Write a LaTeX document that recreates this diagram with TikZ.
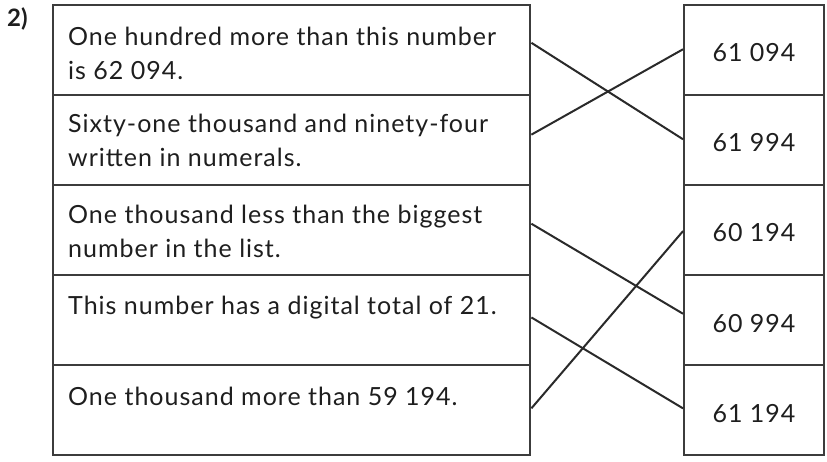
\documentclass[tikz,border=0pt]{standalone}
\usepackage{fontspec}
\setmainfont[LetterSpace=4]{Lato}
\newfontfamily\labelfont{Lato}
\usetikzlibrary{calc}
\definecolor{frame}{HTML}{3C3C3C}
\definecolor{ink}{HTML}{1E1E1E}
\definecolor{wire}{HTML}{2A2A2A}
\tikzset{
  rowbox/.style={draw=frame, line width=2.4pt, inner sep=0pt, anchor=north west, minimum height=90pt},
  leftrow/.style={rowbox, minimum width=477pt},
  rightrow/.style={rowbox, minimum width=140pt},
  clue/.style={inner sep=0pt, anchor=base west, align=left, text=ink, font=\fontsize{25}{34.5}\selectfont},
  answer/.style={inner sep=0pt, anchor=base, text=ink, font=\fontsize{25}{28}\selectfont},
  wirestyle/.style={draw=wire, line width=2pt},
}
\begin{document}
\begin{tikzpicture}[x=1pt, y=-1pt]
\useasboundingbox (0,0) rectangle (827,462);

% question number
\node[inner sep=0pt, anchor=base west, font=\labelfont\fontsize{24}{28}\selectfont\bfseries, text=ink] (qnum) at (7,27) {2)};

% left column of clues
\foreach \i in {1,...,5} {
  \node[leftrow] (L\i) at (52,{4+90*(\i-1)}) {};
}
% right column of answers
\foreach \i in {1,...,5} {
  \node[rightrow] (R\i) at (683,{4+90*(\i-1)}) {};
}

% clue texts (anchored on the baseline of their last line)
\node[clue] (c1) at (68,80)  {One hundred more than this number\\is 62 094.};
\node[clue] (c2) at (68,167) {Sixty-one thousand and ninety-four\\written in numerals.};
\node[clue] (c3) at (68,258) {One thousand less than the biggest\\number in the list.};
\node[clue] (c4) at (68,315) {This number has a digital total of 21.};
\node[clue] (c5) at (68,405) {One thousand more than 59 194.};

\node[answer] (a1) at (754,62)  {61 094};
\node[answer] (a2) at (754,152) {61 994};
\node[answer] (a3) at (754,242) {60 194};
\node[answer] (a4) at (754,332) {60 994};
\node[answer] (a5) at (754,422) {61 194};

% matching lines
\draw[wirestyle] ($(L1.north east)!0.42!(L1.south east)$) -- ($(R2.north west)!0.49!(R2.south west)$);
\draw[wirestyle] ($(L2.north east)!0.44!(L2.south east)$) -- ($(R1.north west)!0.49!(R1.south west)$);
\draw[wirestyle] ($(L3.north east)!0.43!(L3.south east)$) -- ($(R4.north west)!0.43!(R4.south west)$);
\draw[wirestyle] ($(L4.north east)!0.47!(L4.south east)$) -- ($(R5.north west)!0.48!(R5.south west)$);
\draw[wirestyle] ($(L5.north east)!0.48!(L5.south east)$) -- ($(R3.north west)!0.51!(R3.south west)$);
\end{tikzpicture}
\end{document}
